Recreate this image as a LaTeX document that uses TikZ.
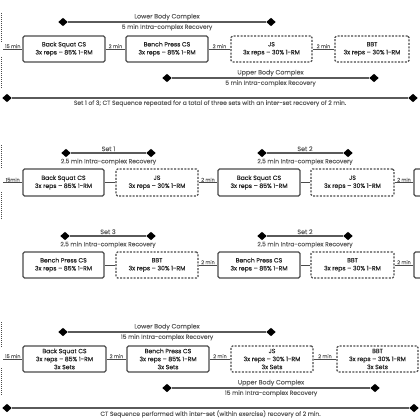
\documentclass[tikz,border=0pt]{standalone}
\usepackage{fontspec}
\setmainfont{Poppins}
\newfontfamily\boxfont{Poppins}[FakeBold=0.22]
\newfontfamily\lblfont{Poppins}[FakeBold=0.1]
\usetikzlibrary{shapes.geometric}
\definecolor{ln}{HTML}{4A4A4A}
\definecolor{rl}{HTML}{5A5A5A}
\definecolor{tx}{HTML}{262626}
\definecolor{lt}{HTML}{5E5E5E}
\begin{document}
\begin{tikzpicture}[x=1pt,y=-1pt,
  sbox/.style={draw=ln, line width=1.1pt, rounded corners=1.5pt, minimum height=26pt,
    text=tx, font=\boxfont\fontsize{6.1}{8}\selectfont, align=center, inner sep=0pt},
  dbox/.style={sbox, dash pattern=on 2pt off 1.4pt},
  dia/.style={diamond, fill=black, draw=none, minimum width=9.5pt, minimum height=8.5pt, inner sep=0pt},
  rng/.style={draw=rl, line width=1.4pt},
  conn/.style={draw=ln, line width=0.7pt},
  tag/.style={font=\lblfont\fontsize{4.9}{5}\selectfont, text=lt, inner sep=0.6pt, anchor=south},
  ab/.style={font=\lblfont\fontsize{6.3}{7}\selectfont, text=lt, inner sep=1.2pt, anchor=south},
  be/.style={font=\lblfont\fontsize{6}{6.5}\selectfont, text=lt, inner sep=1.6pt, anchor=north},
  be2/.style={be, inner sep=5pt},
  edge/.style={draw=ln, line width=0.8pt, dash pattern=on 1pt off 1pt}
]
\useasboundingbox (0,0) rectangle (420,420);
\fill[white] (0,0) rectangle (420,420);
\clip (0,0) rectangle (420,420);

% ===== Panel 1 =====
\draw[edge] (1.5,13) -- (1.5,42);
\draw[edge] (1.5,57) -- (1.5,88);
\coordinate (p1s) at (3,49);
\node[sbox, minimum width=82pt] (a1) at (64,49) {Back Squat CS\\3x reps – 85\% 1-RM};
\node[sbox, minimum width=82pt] (a2) at (167,49) {Bench Press CS\\3x reps – 85\% 1-RM};
\node[dbox, minimum width=81pt] (a3) at (271.5,49) {JS\\3x reps – 30\% 1-RM};
\node[dbox, minimum width=74pt] (a4) at (372,49) {BBT\\3x reps – 30\% 1-RM};
\draw[conn] (p1s) -- node[tag]{15 min} (a1.west);
\draw[conn] (a1.east) -- node[tag]{2 min} (a2.west);
\draw[conn] (a2.east) -- node[tag]{2 min} (a3.west);
\draw[conn] (a3.east) -- node[tag]{2 min} (a4.west);

\node[dia] (l1a) at (63,22) {};
\node[dia] (l1b) at (271,22) {};
\draw[rng] (l1a) -- node[ab]{Lower Body Complex} node[be]{5 min Intra-complex Recovery} (l1b);
\node[dia] (u1a) at (167,78) {};
\node[dia] (u1b) at (374,78) {};
\draw[rng] (u1a) -- node[ab]{Upper Body Complex} node[be]{5 min Intra-complex Recovery} (u1b);
\node[dia] (s1a) at (7,98) {};
\node[dia] (s1b) at (413,98) {};
\draw[rng] (s1a) -- node[be]{Set 1 of 3; CT Sequence repeated for a total of three sets with an inter-set recovery of 2 min.} (s1b);

% ===== Panel 2 =====
\draw[edge] (1.5,145) -- (1.5,168);
\draw[edge] (1.5,192) -- (1.5,219);
\coordinate (p2s) at (3,182.5);
\node[sbox, minimum width=81pt, minimum height=27pt] (b1) at (63.5,182.5) {Back Squat CS\\3x reps – 85\% 1-RM};
\node[dbox, minimum width=82pt, minimum height=27pt] (b2) at (157,182.5) {JS\\3x reps – 30\% 1-RM};
\node[sbox, minimum width=82pt, minimum height=27pt] (b3) at (259,182.5) {Back Squat CS\\3x reps – 85\% 1-RM};
\node[dbox, minimum width=83pt, minimum height=27pt] (b4) at (352.5,182.5) {JS\\3x reps – 30\% 1-RM};
\node[sbox, minimum width=82pt, minimum height=27pt] (b5) at (455,182.5) {};
\draw[conn] (p2s) -- node[tag]{15min} (b1.west);
\draw[conn] (b1.east) -- (b2.west);
\draw[conn] (b2.east) -- node[tag]{2 min} (b3.west);
\draw[conn] (b3.east) -- (b4.west);
\draw[conn] (b4.east) -- node[tag]{2 min} (b5.west);

\node[dia] (t1a) at (66,153) {};
\node[dia] (t1b) at (151,153) {};
\draw[rng] (t1a) -- node[ab]{Set 1} node[be2]{2.5 min Intra-complex Recovery} (t1b);
\node[dia] (t2a) at (262,153) {};
\node[dia] (t2b) at (348,153) {};
\draw[rng] (t2a) -- node[ab]{Set 2} node[be2]{2.5 min Intra-complex Recovery} (t2b);

\node[sbox, minimum width=81pt] (c1) at (63.5,265) {Bench Press CS\\3x reps – 85\% 1-RM};
\node[dbox, minimum width=82pt] (c2) at (157,265) {BBT\\3x reps – 30\% 1-RM};
\node[sbox, minimum width=82pt] (c3) at (259,265) {Bench Press CS\\3x reps – 85\% 1-RM};
\node[dbox, minimum width=83pt] (c4) at (352.5,265) {BBT\\3x reps – 30\% 1-RM};
\node[sbox, minimum width=82pt] (c5) at (455,265) {};
\draw[conn] (c1.east) -- (c2.west);
\draw[conn] (c2.east) -- node[tag]{2 min} (c3.west);
\draw[conn] (c3.east) -- (c4.west);
\draw[conn] (c4.east) -- node[tag]{2 min} (c5.west);

\node[dia] (t3a) at (65,236) {};
\node[dia] (t3b) at (151,236) {};
\draw[rng] (t3a) -- node[ab]{Set 3} node[be2]{2.5 min Intra-complex Recovery} (t3b);
\node[dia] (t4a) at (262,236) {};
\node[dia] (t4b) at (348,236) {};
\draw[rng] (t4a) -- node[ab]{Set 2} node[be2]{2.5 min Intra-complex Recovery} (t4b);

% ===== Panel 3 =====
\draw[edge] (1.5,322) -- (1.5,348);
\draw[edge] (1.5,368) -- (1.5,395);
\coordinate (p3s) at (3,359);
\node[sbox, minimum width=83pt] (d1) at (64.5,359) {Back Squat CS\\3x reps – 85\% 1-RM\\3x Sets};
\node[sbox, minimum width=82pt] (d2) at (168,359) {Bench Press CS\\3x reps – 85\% 1-RM\\3x Sets};
\node[dbox, minimum width=82pt] (d3) at (272,359) {JS\\3x reps – 30\% 1-RM\\3x Sets};
\node[dbox, minimum width=81pt] (d4) at (377.5,359) {BBT\\3x reps – 30\% 1-RM\\3x Sets};
\draw[conn] (p3s) -- node[tag]{15 min} (d1.west);
\draw[conn] (d1.east) -- node[tag]{2 min} (d2.west);
\draw[conn] (d2.east) -- node[tag]{2 min} (d3.west);
\draw[conn] (d3.east) -- node[tag]{2 min} (d4.west);

\node[dia] (l3a) at (63,332) {};
\node[dia] (l3b) at (271,332) {};
\draw[rng] (l3a) -- node[ab]{Lower Body Complex} node[be]{15 min Intra-complex Recovery} (l3b);
\node[dia] (u3a) at (167,388) {};
\node[dia] (u3b) at (375,388) {};
\draw[rng] (u3a) -- node[ab]{Upper Body Complex} node[be]{15 min Intra-complex Recovery} (u3b);
\node[dia] (s3a) at (7,408) {};
\node[dia] (s3b) at (414,408) {};
\draw[rng] (s3a) -- node[be]{CT Sequence performed with inter-set (within exercise) recovery of 2 min.} (s3b);
\end{tikzpicture}
\end{document}
